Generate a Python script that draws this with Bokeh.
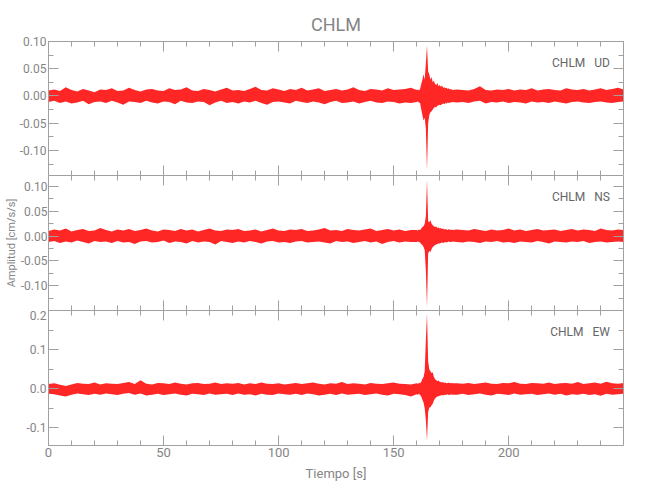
import numpy as np
from bokeh.plotting import figure
from bokeh.layouts import column
from bokeh.models import (Range1d, LinearAxis, SingleIntervalTicker, PrintfTickFormatter,
                          Label, CustomLabelingPolicy)
from bokeh.embed import file_html
from bokeh.resources import INLINE

# ---------------- data ----------------
station = "CHLM"
components = ["UD", "NS", "EW"]
x_label = "Tiempo [s]"
y_label = "Amplitud [cm/s/s]"
x_limits = [0, 249.9]

# sample times of the envelope readings
t_pre = np.arange(0, 160, 2.5)        # 64 readings
t_evt = np.arange(160, 176, 0.5)      # 32 readings around the event
t_post = np.arange(177.5, 250.1, 2.5)  # 30 readings
t_all = np.concatenate([t_pre, t_evt, t_post])

# ---- UD ----
ud_hi_pre = [0.010, 0.012, 0.009, 0.016, 0.011, 0.008, 0.013, 0.010, 0.007, 0.012, 0.011, 0.014, 0.009, 0.010, 0.015, 0.011,
             0.008, 0.012, 0.013, 0.010, 0.009, 0.014, 0.011, 0.012, 0.016, 0.010, 0.009, 0.013, 0.011, 0.008, 0.012, 0.015,
             0.010, 0.011, 0.009, 0.013, 0.017, 0.011, 0.010, 0.014, 0.012, 0.009, 0.013, 0.011, 0.015, 0.010, 0.012, 0.014,
             0.009, 0.011, 0.013, 0.010, 0.012, 0.016, 0.011, 0.009, 0.013, 0.012, 0.010, 0.014, 0.011, 0.012, 0.013, 0.015]
ud_lo_pre = [-0.011, -0.009, -0.013, -0.010, -0.014, -0.012, -0.009, -0.015, -0.011, -0.010, -0.013, -0.009, -0.012, -0.016, -0.010, -0.011,
             -0.013, -0.009, -0.012, -0.014, -0.010, -0.011, -0.015, -0.009, -0.012, -0.013, -0.010, -0.011, -0.017, -0.012, -0.009, -0.013,
             -0.011, -0.014, -0.010, -0.012, -0.009, -0.013, -0.016, -0.011, -0.010, -0.012, -0.014, -0.009, -0.011, -0.013, -0.010, -0.012,
             -0.015, -0.011, -0.009, -0.013, -0.012, -0.010, -0.014, -0.011, -0.009, -0.012, -0.013, -0.010, -0.011, -0.014, -0.012, -0.013]
ud_hi_evt = [0.011, 0.012, 0.010, 0.013, 0.022, 0.030, 0.040, 0.030, 0.060, 0.093, 0.045, 0.040, 0.030, 0.035, 0.025, 0.028,
             0.022, 0.020, 0.024, 0.018, 0.020, 0.017, 0.019, 0.015, 0.016, 0.014, 0.015, 0.013, 0.014, 0.012, 0.013, 0.011]
ud_lo_evt = [-0.011, -0.010, -0.012, -0.013, -0.025, -0.035, -0.045, -0.040, -0.060, -0.137, -0.050, -0.035, -0.030, -0.028, -0.025, -0.022,
             -0.020, -0.021, -0.018, -0.017, -0.016, -0.017, -0.015, -0.014, -0.015, -0.013, -0.014, -0.012, -0.013, -0.012, -0.012, -0.011]
ud_hi_post = [0.012, 0.011, 0.010, 0.013, 0.018, 0.011, 0.010, 0.012, 0.011, 0.013, 0.010, 0.012, 0.011, 0.014, 0.010,
              0.012, 0.013, 0.011, 0.010, 0.014, 0.012, 0.011, 0.013, 0.010, 0.012, 0.014, 0.011, 0.013, 0.015, 0.012]
ud_lo_post = [-0.012, -0.011, -0.013, -0.010, -0.009, -0.014, -0.011, -0.012, -0.010, -0.013, -0.011, -0.012, -0.014, -0.010, -0.012,
              -0.011, -0.013, -0.010, -0.012, -0.014, -0.011, -0.010, -0.012, -0.013, -0.011, -0.010, -0.012, -0.013, -0.011, -0.010]

# ---- NS ----
ns_hi_pre = [0.010, 0.013, 0.011, 0.015, 0.009, 0.012, 0.014, 0.010, 0.011, 0.016, 0.012, 0.009, 0.013, 0.011, 0.014, 0.010,
             0.012, 0.015, 0.011, 0.009, 0.013, 0.012, 0.010, 0.014, 0.011, 0.013, 0.009, 0.012, 0.015, 0.011, 0.010, 0.013,
             0.012, 0.014, 0.010, 0.011, 0.013, 0.009, 0.012, 0.015, 0.011, 0.010, 0.013, 0.012, 0.014, 0.010, 0.011, 0.013,
             0.016, 0.011, 0.012, 0.010, 0.014, 0.012, 0.011, 0.013, 0.015, 0.010, 0.012, 0.014, 0.011, 0.013, 0.010, 0.012]
ns_lo_pre = [-0.012, -0.010, -0.014, -0.011, -0.013, -0.009, -0.012, -0.015, -0.010, -0.012, -0.011, -0.014, -0.010, -0.013, -0.012, -0.016,
             -0.011, -0.010, -0.013, -0.012, -0.009, -0.014, -0.011, -0.012, -0.015, -0.010, -0.013, -0.011, -0.012, -0.017, -0.010, -0.012,
             -0.014, -0.011, -0.013, -0.010, -0.012, -0.015, -0.011, -0.010, -0.013, -0.012, -0.014, -0.011, -0.010, -0.013, -0.012, -0.011,
             -0.013, -0.015, -0.010, -0.012, -0.011, -0.014, -0.012, -0.010, -0.013, -0.011, -0.016, -0.012, -0.010, -0.013, -0.011, -0.012]
ns_hi_evt = [0.012, 0.011, 0.013, 0.012, 0.015, 0.018, 0.020, 0.025, 0.040, 0.114, 0.030, 0.028, 0.032, 0.025, 0.022, 0.020,
             0.018, 0.019, 0.016, 0.017, 0.015, 0.016, 0.014, 0.015, 0.013, 0.014, 0.013, 0.012, 0.014, 0.012, 0.013, 0.012]
ns_lo_evt = [-0.012, -0.011, -0.012, -0.013, -0.016, -0.018, -0.022, -0.028, -0.070, -0.143, -0.035, -0.030, -0.032, -0.026, -0.022, -0.020,
             -0.018, -0.017, -0.016, -0.015, -0.015, -0.014, -0.013, -0.014, -0.013, -0.012, -0.013, -0.012, -0.011, -0.012, -0.012, -0.011]
ns_hi_post = [0.013, 0.012, 0.011, 0.014, 0.012, 0.010, 0.013, 0.011, 0.012, 0.015, 0.011, 0.013, 0.010, 0.012, 0.014,
              0.011, 0.012, 0.013, 0.010, 0.012, 0.014, 0.011, 0.013, 0.012, 0.010, 0.015, 0.012, 0.011, 0.013, 0.012]
ns_lo_post = [-0.012, -0.013, -0.011, -0.012, -0.014, -0.011, -0.012, -0.010, -0.013, -0.012, -0.014, -0.011, -0.012, -0.013, -0.010,
              -0.012, -0.015, -0.011, -0.012, -0.013, -0.011, -0.012, -0.010, -0.014, -0.012, -0.011, -0.013, -0.012, -0.011, -0.012]

# ---- EW ----
ew_hi_pre = [0.012, 0.014, 0.010, 0.007, 0.011, 0.015, 0.013, 0.012, 0.016, 0.011, 0.014, 0.013, 0.012, 0.015, 0.017, 0.012,
             0.022, 0.013, 0.011, 0.015, 0.014, 0.012, 0.016, 0.013, 0.011, 0.014, 0.015, 0.012, 0.013, 0.016, 0.012, 0.014,
             0.013, 0.015, 0.011, 0.014, 0.012, 0.016, 0.013, 0.012, 0.014, 0.011, 0.013, 0.015, 0.012, 0.014, 0.016, 0.013,
             0.011, 0.014, 0.013, 0.017, 0.012, 0.014, 0.013, 0.011, 0.015, 0.013, 0.012, 0.014, 0.016, 0.013, 0.012, 0.011]
ew_lo_pre = [-0.013, -0.014, -0.017, -0.020, -0.015, -0.012, -0.014, -0.016, -0.013, -0.015, -0.012, -0.014, -0.016, -0.013, -0.011, -0.015,
             -0.012, -0.017, -0.015, -0.013, -0.016, -0.014, -0.012, -0.015, -0.017, -0.013, -0.014, -0.016, -0.012, -0.015, -0.014, -0.013,
             -0.016, -0.012, -0.015, -0.014, -0.017, -0.013, -0.015, -0.016, -0.012, -0.014, -0.015, -0.013, -0.016, -0.012, -0.014, -0.017,
             -0.015, -0.013, -0.016, -0.012, -0.015, -0.014, -0.013, -0.016, -0.014, -0.012, -0.015, -0.017, -0.013, -0.014, -0.016, -0.020]
ew_hi_evt = [0.014, 0.013, 0.015, 0.014, 0.018, 0.025, 0.030, 0.045, 0.124, 0.193, 0.070, 0.050, 0.045, 0.040, 0.042, 0.030,
             0.025, 0.022, 0.020, 0.021, 0.018, 0.017, 0.016, 0.017, 0.015, 0.016, 0.014, 0.015, 0.016, 0.014, 0.015, 0.014]
ew_lo_evt = [-0.014, -0.015, -0.013, -0.016, -0.020, -0.028, -0.035, -0.050, -0.080, -0.133, -0.060, -0.048, -0.047, -0.042, -0.038, -0.030,
             -0.025, -0.022, -0.020, -0.019, -0.018, -0.017, -0.016, -0.017, -0.015, -0.016, -0.015, -0.014, -0.016, -0.015, -0.014, -0.015]
ew_hi_post = [0.014, 0.013, 0.015, 0.012, 0.014, 0.016, 0.013, 0.012, 0.015, 0.014, 0.017, 0.013, 0.012, 0.015, 0.014,
              0.013, 0.016, 0.012, 0.014, 0.015, 0.013, 0.017, 0.012, 0.014, 0.016, 0.013, 0.018, 0.014, 0.013, 0.015]
ew_lo_post = [-0.015, -0.013, -0.016, -0.014, -0.012, -0.015, -0.017, -0.013, -0.014, -0.016, -0.012, -0.015, -0.014, -0.013, -0.016,
              -0.014, -0.012, -0.015, -0.013, -0.017, -0.014, -0.015, -0.013, -0.016, -0.014, -0.018, -0.013, -0.015, -0.014, -0.013]

y_limits = [(-0.146, 0.10), (-0.15, 0.122), (-0.145, 0.20)]
y_tick_step = [0.05, 0.05, 0.1]
y_tick_fmt = ["%.2f", "%.2f", "%.1f"]
x_tick_step = 50

# ---------------- style ----------------
FONT = "Roboto"
TXT = "#858585"
LINE = "#a0a0a0"
RED = "#ff0000"

HIDE = "for (let i = 0; i < indices.size; i++) { indices.unset(i) }\nreturn indices"


def make_axis(ticker, fmt=None, labels=False, size="12px"):
    ax = LinearAxis(ticker=ticker,
                    axis_line_color=LINE, major_tick_line_color=LINE, minor_tick_line_color=LINE,
                    major_tick_in=10, major_tick_out=0, minor_tick_in=5, minor_tick_out=0,
                    major_label_standoff=2 if labels else 0,
                    major_label_text_font_size=size if labels else "0px",
                    major_label_text_color=TXT, major_label_text_font=FONT)
    if not labels:
        ax.major_label_policy = CustomLabelingPolicy(code=HIDE)
    if fmt:
        ax.formatter = PrintfTickFormatter(format=fmt)
    return ax


his = [np.concatenate([ud_hi_pre, ud_hi_evt, ud_hi_post]),
       np.concatenate([ns_hi_pre, ns_hi_evt, ns_hi_post]),
       np.concatenate([ew_hi_pre, ew_hi_evt, ew_hi_post])]
los = [np.concatenate([ud_lo_pre, ud_lo_evt, ud_lo_post]),
       np.concatenate([ns_lo_pre, ns_lo_evt, ns_lo_post]),
       np.concatenate([ew_lo_pre, ew_lo_evt, ew_lo_post])]

heights = [175, 135, 180]
tops = [41, 0, 0]
bottoms = [0, 0, 45]
frame_h = [134, 135, 135]

plots = []
for i in range(3):
    p = figure(width=642, height=heights[i],
               x_range=Range1d(*x_limits), y_range=Range1d(*y_limits[i]),
               output_backend="svg", toolbar_location=None,
               x_axis_location=None, y_axis_location=None,
               min_border_left=48, min_border_right=19,
               min_border_top=tops[i], min_border_bottom=bottoms[i])
    p.grid.visible = False
    p.outline_line_color = None
    p.background_fill_color = "white"
    p.border_fill_color = "white"

    p.varea(x=t_all, y1=los[i], y2=his[i], fill_color=RED, fill_alpha=0.85)

    last = (i == 2)
    bax = make_axis(SingleIntervalTicker(interval=x_tick_step, num_minor_ticks=5), labels=last, size="13px")
    if last:
        bax.axis_label = x_label
        bax.axis_label_text_font = FONT
        bax.axis_label_text_font_size = "13px"
        bax.axis_label_text_font_style = "normal"
        bax.axis_label_text_color = TXT
        bax.axis_label_standoff = 6
    p.add_layout(bax, "below")
    p.add_layout(make_axis(SingleIntervalTicker(interval=x_tick_step, num_minor_ticks=5)), "above")
    lax = make_axis(SingleIntervalTicker(interval=y_tick_step[i], num_minor_ticks=2),
                    fmt=y_tick_fmt[i], labels=True)
    if i == 1:
        lax.axis_label = y_label
        lax.axis_label_text_font = FONT
        lax.axis_label_text_font_size = "11px"
        lax.axis_label_text_font_style = "normal"
        lax.axis_label_text_color = TXT
        lax.axis_label_standoff = 0
        lax.major_label_standoff = 1
    p.add_layout(lax, "left")
    p.add_layout(make_axis(SingleIntervalTicker(interval=y_tick_step[i], num_minor_ticks=2)), "right")

    p.add_layout(Label(x=244, y=frame_h[i] - 21, x_units="data", y_units="screen",
                       text=f"{station}\u00a0\u00a0\u00a0{components[i]}", text_align="right",
                       text_baseline="middle",
                       text_font=FONT, text_font_size="12px", text_color="#666666"))
    plots.append(p)

t = plots[0].title
t.text = station
t.align = "center"
t.text_font = FONT
t.text_font_size = "18px"
t.text_font_style = "normal"
t.text_color = TXT
t.standoff = 14

layout = column(*plots, spacing=0)
open("out.html", "w").write(file_html(layout, INLINE))
